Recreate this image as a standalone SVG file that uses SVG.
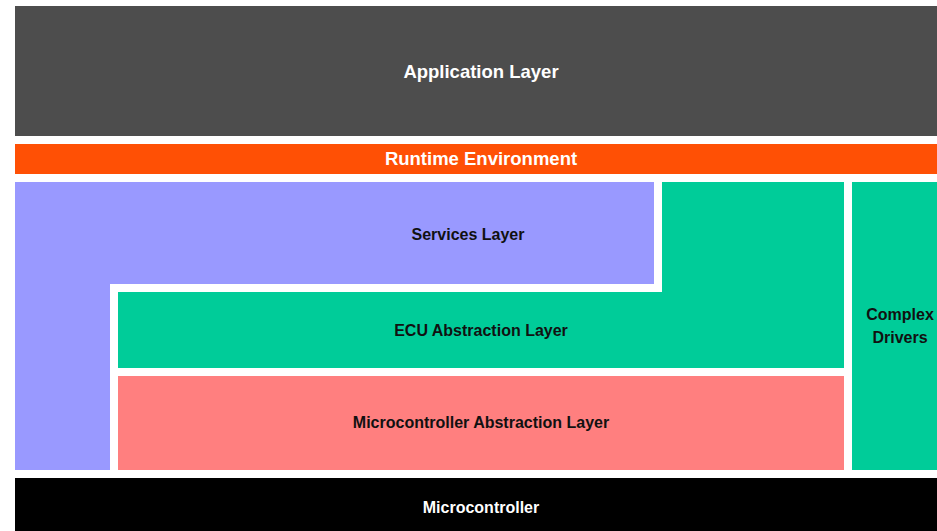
<svg xmlns="http://www.w3.org/2000/svg" width="937" height="531" viewBox="0 0 937 531">
<style>
text{font-family:"Liberation Sans",Arial,sans-serif;font-weight:bold;text-anchor:middle;dominant-baseline:central}
.w{fill:#ffffff}
.k{fill:#111111;font-size:16px}
</style>
<rect width="937" height="531" fill="#ffffff"/>
<g id="application-layer"><rect x="15" y="6" width="922" height="130" fill="#4d4d4d"/><text class="w" x="481" y="71" font-size="18.5">Application Layer</text></g>
<g id="rte"><rect x="15" y="144" width="922" height="30" fill="#ff5005"/><text class="w" x="481" y="158" font-size="18.5">Runtime Environment</text></g>
<g id="services-layer"><polygon points="15,182 654,182 654,284 110,284 110,470 15,470" fill="#9999ff"/><text class="k" x="468" y="234">Services Layer</text></g>
<g id="ecu-abstraction-layer"><polygon points="662,182 844,182 844,368 118,368 118,292 662,292" fill="#00cc99"/><text class="k" x="481" y="330">ECU Abstraction Layer</text></g>
<g id="complex-drivers"><rect x="852" y="182" width="85" height="288" fill="#00cc99"/><text class="k" x="900" y="314" font-size="15.5">Complex</text><text class="k" x="900" y="337" font-size="15.5">Drivers</text></g>
<g id="mcal"><rect x="118" y="376" width="726" height="94" fill="#ff7f7f"/><text class="k" x="481" y="422">Microcontroller Abstraction Layer</text></g>
<g id="microcontroller"><rect x="15" y="478" width="922" height="53" fill="#000000"/><text class="w" x="481" y="507" font-size="16">Microcontroller</text></g>
<g id="connectors"/>
</svg>
